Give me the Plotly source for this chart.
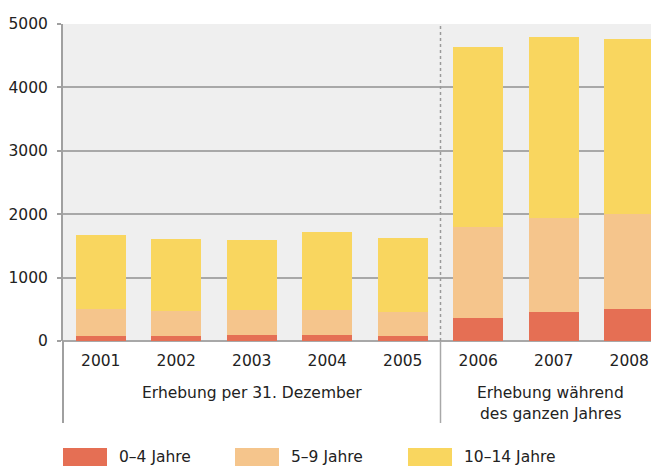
import plotly.graph_objects as go

years = ["2001", "2002", "2003", "2004", "2005", "2006", "2007", "2008"]
age_0_4 = [79, 79, 95, 95, 79, 363, 457, 505]
age_5_9 = [426, 394, 394, 394, 383, 1435, 1488, 1503]
age_10_14 = [1167, 1136, 1101, 1230, 1163, 2839, 2850, 2755]
series_names = ["0–4 Jahre", "5–9 Jahre", "10–14 Jahre"]
series_colors = ["#E56F54", "#F5C58C", "#F9D65F"]
group_label_1 = "Erhebung per 31. Dezember"
group_label_2 = ["Erhebung während", "des ganzen Jahres"]

OFF = 8  # browser body margin
WIN_W, WIN_H = 659, 466
W, H = WIN_W - OFF, WIN_H - OFF
L, T = 63 - OFF, 24 - OFF
B = H - (341 - OFF)
PH = H - T - B
PW = W - L
slot = 75.5

def py(ypx):  # window pixel -> paper
    return (H - B - (ypx - OFF)) / PH

def px(xpx):
    return (xpx - OFF - L) / PW

fig = go.Figure()
for name, vals, col in zip(series_names, [age_0_4, age_5_9, age_10_14], series_colors):
    fig.add_trace(go.Bar(x=years, y=vals, name=name, marker_color=col,
                         marker_line_width=0, width=0.66, showlegend=False))

font = dict(family="DejaVu Sans", size=15.5, color="#222222")
grid_col = "#A8A8A8"

shapes = []
shapes.append(dict(type="line", xref="x", yref="y", x0=4.5, x1=4.5, y0=0, y1=5000,
                   line=dict(color="#9A9A9A", width=1.5, dash="dot"), layer="above"))
shapes.append(dict(type="line", xref="x", yref="paper", x0=4.5, x1=4.5, y0=0, y1=py(423),
                   line=dict(color="#A8A8A8", width=1.5)))
shapes.append(dict(type="line", xref="paper", yref="paper", x0=0, x1=0, y0=0, y1=py(423),
                   line=dict(color="#A0A0A0", width=2)))

annotations = [
    dict(x=2.0, y=py(393), xref="x", yref="paper", text=group_label_1, showarrow=False,
         font=font, xanchor="center", yanchor="middle"),
    dict(x=5.96, y=py(393), xref="x", yref="paper", text=group_label_2[0], showarrow=False,
         font=font, xanchor="center", yanchor="middle"),
    dict(x=5.96, y=py(414), xref="x", yref="paper", text=group_label_2[1], showarrow=False,
         font=font, xanchor="center", yanchor="middle"),
]

leg_x = [63, 235, 408]
for lx, name, col in zip(leg_x, series_names, series_colors):
    shapes.append(dict(type="rect", xref="paper", yref="paper", x0=px(lx), x1=px(lx + 44),
                       y0=py(448), y1=py(470), fillcolor=col, line=dict(width=0)))
    annotations.append(dict(x=px(lx + 54), y=py(457), xref="paper", yref="paper", text=name,
                            showarrow=False, font=font, xanchor="left", yanchor="middle"))

fig.update_layout(
    width=W, height=H,
    margin=dict(l=L, r=0, t=T, b=B, pad=0),
    barmode="stack",
    plot_bgcolor="#EFEFEF",
    paper_bgcolor="white",
    font=font,
    shapes=shapes,
    annotations=annotations,
    xaxis=dict(type="category", range=[-0.5, -0.5 + PW / slot], showgrid=False,
               ticks="", showline=False, zeroline=False, tickfont=font,
               ticklabelstandoff=8),
    yaxis=dict(range=[0, 5000], tickvals=[0, 1000, 2000, 3000, 4000, 5000],
               showgrid=True, gridcolor=grid_col, gridwidth=1.8,
               showline=True, linecolor="#A0A0A0", linewidth=2,
               ticks="outside", ticklen=4, tickcolor="#A0A0A0", tickwidth=1.5,
               zeroline=True, zerolinecolor=grid_col, zerolinewidth=2,
               tickfont=font, ticklabelstandoff=6),
)

fig.write_html("out.html")
